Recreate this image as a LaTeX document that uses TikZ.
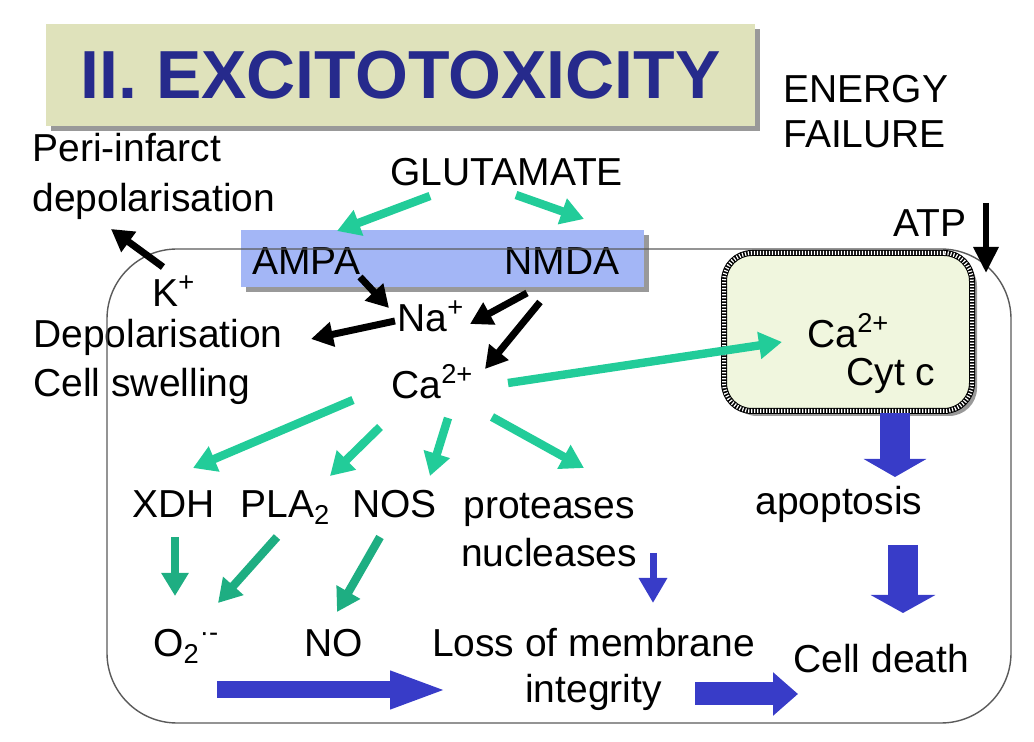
\documentclass[tikz,border=0pt]{standalone}
\usepackage{fontspec}
\setmainfont{Liberation Sans}
\usetikzlibrary{arrows.meta,shadows}
\definecolor{titlebg}{RGB}{223,226,187}
\definecolor{titleblue}{RGB}{38,42,140}
\definecolor{barblue}{RGB}{163,182,246}
\definecolor{teal1}{RGB}{34,204,153}
\definecolor{teal2}{RGB}{30,174,130}
\definecolor{arrblue}{RGB}{56,60,200}
\definecolor{mitofill}{RGB}{240,246,222}
\definecolor{cellline}{RGB}{90,90,90}
\begin{document}
\begin{tikzpicture}[x=0.5pt,y=-0.5pt,
  lbl/.style={inner sep=0pt, font=\fontsize{19.5}{24.5}\selectfont, anchor=base west},
  lbll/.style={lbl, align=left},
  lblc/.style={inner sep=0pt, font=\fontsize{19.5}{24}\selectfont, anchor=base, align=center},
  garr/.style={draw=teal1, line width=4.2pt, -{Triangle[width=13pt,length=11.5pt]}},
  darr/.style={draw=teal2, line width=4.2pt, -{Triangle[width=13pt,length=11.5pt]}},
  karr/.style={draw=black, line width=3.5pt, -{Triangle[width=12pt,length=11pt]}},
  shad/.style={drop shadow={shadow xshift=2.5pt, shadow yshift=-2.5pt, opacity=0.4, fill=black}},
]
\useasboundingbox (0,0) rectangle (1034,742);

% title
\node[fill=titlebg, shad, minimum width=354.5pt, minimum height=51pt, inner sep=0pt,
      font=\fontsize{34}{40}\selectfont\bfseries, text=titleblue] (title) at (400.5,75) {II. EXCITOTOXICITY};
\node[lbll, font=\fontsize{19.5}{22.5}\selectfont] (energy) at (783,148) {ENERGY\\FAILURE};

% receptor bar
\node[fill=barblue, shad, minimum width=201.5pt, minimum height=28.5pt, inner sep=0pt] (bar) at (442.5,258.5) {};

% texts
\node[lbll, font=\fontsize{19.5}{25}\selectfont] (peri) at (32,212) {Peri-infarct\\depolarisation};
\node[lbl] (glut) at (390,186) {GLUTAMATE};
\node[lbl] (ampa) at (252,275) {AMPA};
\node[lbl] (nmda) at (504,275) {NMDA};
\node[lbl] (atp) at (893,237) {ATP};
\node[lbl] (kp) at (152,307) {K\textsuperscript{+}};
\node[lbl] (na) at (397,332) {Na\textsuperscript{+}};
\node[lbll] (depol) at (33,397) {Depolarisation\\Cell swelling};
\node[lbl] (ca) at (391,399) {Ca\textsuperscript{2+}};
\node[lbl] (xdh) at (132,518) {XDH};
\node[lbl] (pla) at (240,518) {PLA\textsubscript{2}};
\node[lbl] (nos) at (352,518) {NOS};
\node[lblc] (prot) at (549,567) {proteases\\nucleases};
\node[lbl] (otwo) at (153,657) {O\textsubscript{2}\textsuperscript{·-}};
\node[lbl] (no) at (304,657) {NO};
\node[lblc, font=\fontsize{19.5}{23}\selectfont] (loss) at (593.5,703) {Loss of membrane\\integrity};
\node[lbl] (apop) at (755,515) {apoptosis};
\node[lbl] (death) at (793,673) {Cell death};

% cell outline
\node[draw=cellline, line width=0.7pt, rounded corners=35pt, minimum width=452pt, minimum height=237pt, inner sep=0pt] (cell) at (559,486) {};

% mitochondrion
\node[fill=mitofill, shad, draw=black, line width=3pt, rounded corners=14pt,
      minimum width=124pt, minimum height=79pt, inner sep=0pt,
      postaction={draw=white, line width=2pt, dash pattern=on 0.6pt off 0.9pt}] (mito) at (848,332) {};
\node[lbl] (mca) at (807,348) {Ca\textsuperscript{2+}};
\node[lbl] (cytc) at (846,386) {Cyt c};

% arrow end points
\coordinate (k1) at (163,267);   \coordinate (k2) at (111,229);
\coordinate (g1) at (430,196);   \coordinate (g1e) at (337,231);
\coordinate (g2) at (516,195);   \coordinate (g2e) at (584,219);
\coordinate (a1) at (360,277);   \coordinate (a1e) at (389,308);
\coordinate (n1) at (527,293);   \coordinate (n1e) at (470,324);
\coordinate (n2) at (540,302);   \coordinate (n2e) at (485,369);
\coordinate (na1) at (395,321);  \coordinate (na1e) at (311,339);
\coordinate (c0) at (508,383);   \coordinate (c0e) at (782,342);
\coordinate (c1) at (353,400);   \coordinate (c1e) at (193,468);
\coordinate (c2) at (380,427);   \coordinate (c2e) at (330,476);
\coordinate (c3) at (448,418);   \coordinate (c3e) at (430,476);
\coordinate (c4) at (492,417);   \coordinate (c4e) at (584,468);
\coordinate (x1) at (175,537);   \coordinate (x1e) at (175,596);
\coordinate (p1) at (277,537);   \coordinate (p1e) at (218,603);
\coordinate (o1) at (380,537);   \coordinate (o1e) at (337,612);
\coordinate (t1) at (986,203);   \coordinate (t1e) at (986,273);
\coordinate (s1) at (653,553);   \coordinate (s1e) at (653,603);
\coordinate (m1) at (895,413);   \coordinate (m1e) at (895,477);
\coordinate (ap1) at (903,545);  \coordinate (ap1e) at (903,613);
\coordinate (r1) at (217,690);   \coordinate (r1e) at (448,690);
\coordinate (l1) at (695,694);   \coordinate (l1e) at (798,694);

% black arrows
\draw[karr] (k1) -- (k2);
\draw[karr] (a1) -- (a1e);
\draw[karr] (n1) -- (n1e);
\draw[karr] (n2) -- (n2e);
\draw[karr] (na1) -- (na1e);
\draw[draw=black, line width=3pt, -{Triangle[width=12pt,length=13pt]}] (t1) -- (t1e);

% green arrows
\draw[garr] (g1) -- (g1e);
\draw[garr] (g2) -- (g2e);
\draw[garr] (c0) -- (c0e);
\draw[garr] (c1) -- (c1e);
\draw[garr] (c2) -- (c2e);
\draw[garr] (c3) -- (c3e);
\draw[garr] (c4) -- (c4e);
\draw[darr] (x1) -- (x1e);
\draw[darr] (p1) -- (p1e);
\draw[darr] (o1) -- (o1e);

% blue arrows
\draw[draw=arrblue, line width=3.5pt, -{Triangle[width=13.5pt,length=12.5pt]}] (s1) -- (s1e);
\draw[draw=arrblue, line width=15pt, -{Triangle[width=31pt,length=9pt]}] (m1) -- (m1e);
\draw[draw=arrblue, line width=15pt, -{Triangle[width=32pt,length=9pt]}] (ap1) -- (ap1e);
\draw[draw=arrblue, line width=8.5pt, -{Triangle[width=17pt,length=29pt]}] (r1) -- (r1e);
\draw[draw=arrblue, line width=11.5pt, -{Triangle[width=21pt,length=12.5pt]}] (l1) -- (l1e);
\end{tikzpicture}
\end{document}
